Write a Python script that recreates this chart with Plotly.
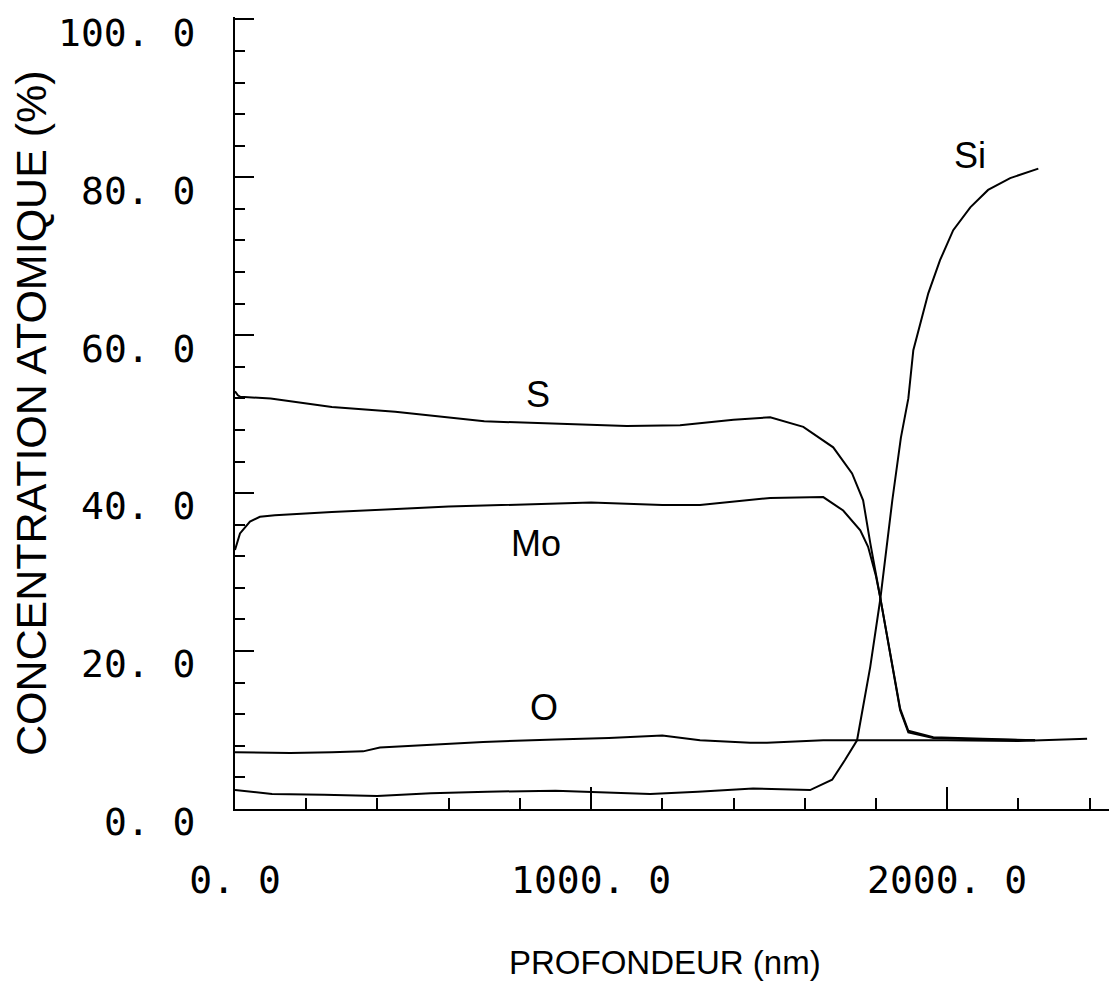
import plotly.graph_objects as go

# ---- data (depth in nm, atomic concentration in %) ----
s_x = [0, 8, 15, 100, 272, 450, 700, 900, 1100, 1250, 1400, 1503, 1596, 1680, 1733, 1764, 1784, 1812, 1846, 1868, 1891, 1961, 2100, 2247]
s_y = [52.9, 52.4, 52.2, 52.0, 50.9, 50.3, 49.1, 48.8, 48.5, 48.6, 49.3, 49.6, 48.4, 45.8, 42.5, 39.1, 33.7, 26.8, 18.0, 12.5, 9.7, 9.0, 8.8, 8.7]

mo_x = [0, 14, 42, 70, 112, 272, 600, 1000, 1200, 1306, 1503, 1652, 1708, 1756, 1778, 1800, 1812, 1846, 1868, 1891, 1961, 2100, 2247]
mo_y = [32.8, 34.9, 36.4, 37.0, 37.2, 37.6, 38.3, 38.8, 38.5, 38.5, 39.4, 39.5, 37.8, 35.3, 33.2, 29.5, 26.8, 18.2, 12.7, 9.9, 9.1, 8.9, 8.7]

si_x = [0, 104, 250, 399, 550, 708, 900, 1166, 1300, 1455, 1615, 1677, 1713, 1747, 1784, 1812, 1846, 1870, 1891, 1905, 1947, 1980, 2017, 2065, 2115, 2177, 2256]
si_y = [2.4, 1.9, 1.8, 1.65, 2.0, 2.2, 2.3, 1.9, 2.2, 2.6, 2.4, 3.7, 6.2, 8.7, 18.0, 26.5, 39.1, 47.0, 52.0, 58.1, 65.3, 69.5, 73.3, 76.2, 78.4, 79.9, 81.1]

o_x = [0, 155, 272, 360, 407, 556, 697, 900, 1050, 1200, 1306, 1447, 1494, 1652, 1800, 2000, 2200, 2393]
o_y = [7.2, 7.1, 7.2, 7.3, 7.8, 8.2, 8.5, 8.8, 9.0, 9.3, 8.7, 8.4, 8.4, 8.7, 8.7, 8.7, 8.6, 8.9]

curve_labels = ["S", "Mo", "O", "Si"]
label_x = [851, 846, 868, 2065]
label_y = [52.5, 33.6, 12.9, 82.8]

x_tickvals = [0, 1000, 2000]
x_ticktext = ["0. 0", "1000. 0", "2000. 0"]
y_tickvals = [0, 20, 40, 60, 80, 100]
y_ticktext = ["0. 0", "20. 0", "40. 0", "60. 0", "80. 0", "100. 0"]

fig = go.Figure()
for xs, ys, name in [(s_x, s_y, "S"), (mo_x, mo_y, "Mo"), (si_x, si_y, "Si"), (o_x, o_y, "O")]:
    fig.add_trace(go.Scatter(x=xs, y=ys, mode="lines", name=name,
                             line=dict(color="black", width=2), showlegend=False))

for t, lx, ly in zip(curve_labels, label_x, label_y):
    fig.add_annotation(x=lx, y=ly, xref="x", yref="y", text=t, showarrow=False,
                       font=dict(family="Liberation Sans, Arial", size=36, color="black"))

tickfont = dict(family="DejaVu Sans Mono", size=38, color="black")

fig.update_xaxes(range=[0, 2477], showline=True, linecolor="black", linewidth=2,
                 ticks="inside", ticklen=22, tickwidth=2, tickcolor="black",
                 tickvals=x_tickvals, ticktext=x_ticktext, tickfont=tickfont,
                 ticklabelstandoff=36,
                 minor=dict(dtick=200, ticks="inside", ticklen=11, tickwidth=2, tickcolor="black"),
                 showgrid=False, zeroline=False)
fig.update_yaxes(range=[0, 100.3], showline=True, linecolor="black", linewidth=2,
                 ticks="inside", ticklen=19, tickwidth=2, tickcolor="black",
                 tickvals=y_tickvals, ticktext=y_ticktext, tickfont=tickfont,
                 ticklabelstandoff=30, ticklabelshift=13,
                 minor=dict(dtick=4, ticks="inside", ticklen=10, tickwidth=2, tickcolor="black"),
                 showgrid=False, zeroline=False)

fig.add_annotation(text="CONCENTRATION ATOMIQUE (%)", xref="paper", yref="paper",
                   x=-0.2313, y=0.5, xanchor="center", yanchor="middle",
                   textangle=-90, showarrow=False,
                   font=dict(family="Liberation Sans, Arial", size=43, color="black"))
fig.add_annotation(text="PROFONDEUR (nm)", xref="paper", yref="paper",
                   x=0.4875, y=-0.194, xanchor="center", yanchor="middle", showarrow=False,
                   font=dict(family="Liberation Sans, Arial", size=33, color="black"))

fig.update_layout(width=1109, height=978, margin=dict(l=227, r=0, t=9, b=177),
                  plot_bgcolor="white", paper_bgcolor="white")

fig.write_html("out.html")
